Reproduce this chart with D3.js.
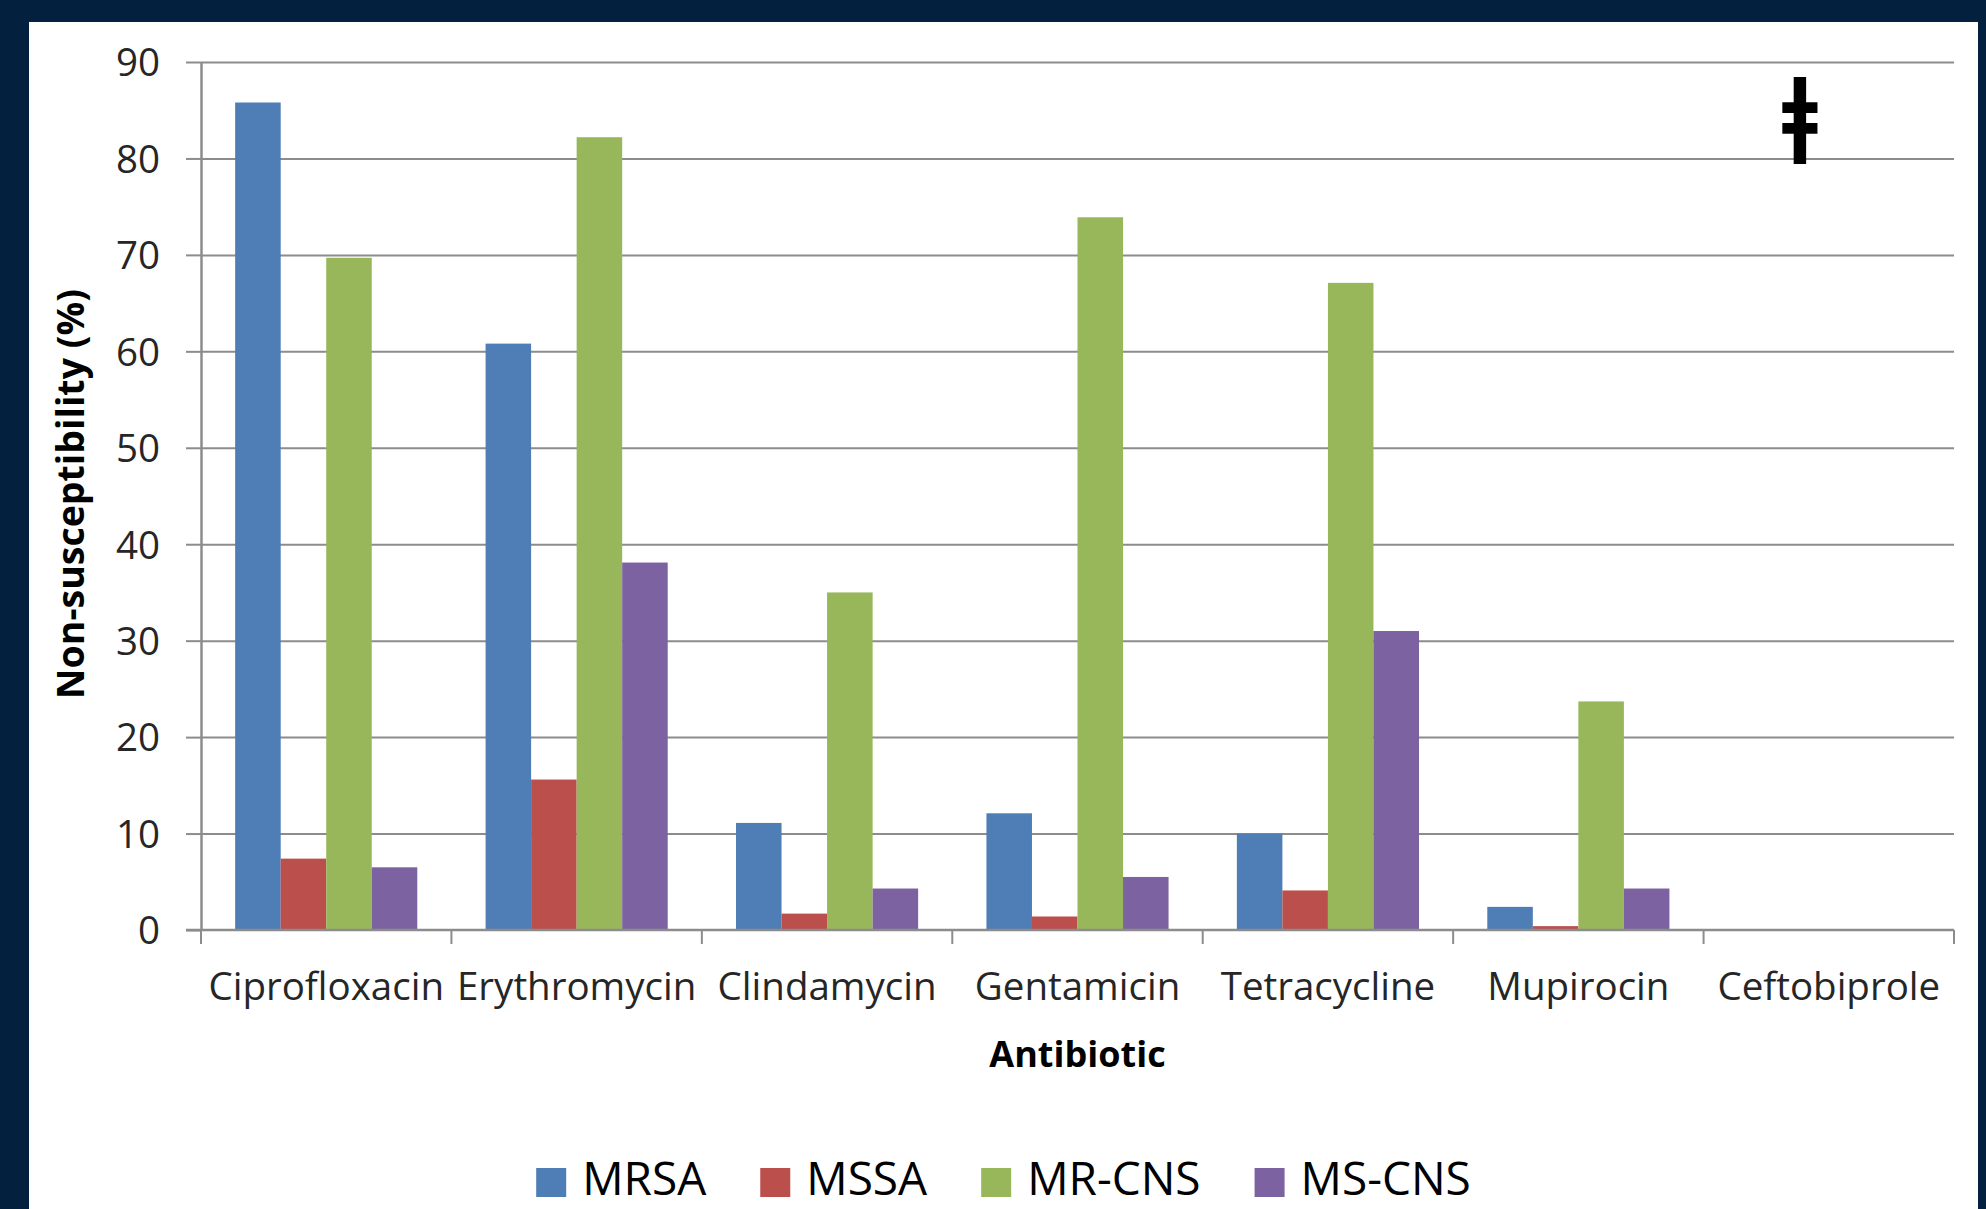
<!DOCTYPE html>
<html>
<head>
<meta charset="utf-8">
<script src="https://cdn.jsdelivr.net/npm/d3@7"></script>
<style>
  body { margin: 0; padding: 0; background: #04203f; }
  svg { display: block; }
</style>
</head>
<body>
<div id="main"></div>
<script>
const antibiotics = ['Ciprofloxacin', 'Erythromycin', 'Clindamycin', 'Gentamicin', 'Tetracycline', 'Mupirocin', 'Ceftobiprole'];
const groups = ['MRSA', 'MSSA', 'MR-CNS', 'MS-CNS'];
const mrsa  = [85.8, 60.8, 11.1, 12.1, 10.0, 2.4, 0];
const mssa  = [7.4, 15.6, 1.7, 1.4, 4.1, 0.4, 0];
const mrcns = [69.7, 82.2, 35.0, 73.9, 67.1, 23.7, 0];
const mscns = [6.5, 38.1, 4.3, 5.5, 31.0, 4.3, 0];
const yTicks = [0, 10, 20, 30, 40, 50, 60, 70, 80, 90];
const colors = ['#4f7db6', '#bb4f4c', '#98b65a', '#7c62a0'];

const w = 1986;
const h = 1209;
const plotLeft = 201, plotRight = 1954, plotTop = 62, plotBottom = 930;

const series = [mrsa, mssa, mrcns, mscns];
const rows = antibiotics.map((a, i) => ({ name: a, values: series.map(s => s[i]) }));

const svg = d3.select('#main')
              .append('svg')
              .attr('width', w)
              .attr('height', h);

// white panel
svg.append('rect')
   .attr('x', 29)
   .attr('y', 22)
   .attr('width', 1949)
   .attr('height', h - 22)
   .attr('fill', '#ffffff');

const xScale = d3.scaleBand()
                 .domain(antibiotics)
                 .range([plotLeft, plotRight]);

const x1 = d3.scaleBand()
             .domain(groups)
             .range([0, xScale.bandwidth()])
             .paddingOuter(0.75);

const yScale = d3.scaleLinear()
                 .domain([0, 90])
                 .range([plotBottom, plotTop]);

// gridlines
svg.append('g')
   .attr('class', 'grid')
   .attr('transform', 'translate(' + plotLeft + ',0)')
   .call(d3.axisLeft(yScale).tickValues(yTicks.slice(1)).tickSize(-(plotRight - plotLeft)).tickFormat(''))
   .call(g => g.select('.domain').remove())
   .call(g => g.selectAll('line').attr('stroke', '#8c8c8c').attr('stroke-width', 2));

// bars
svg.append('g')
   .selectAll('g')
   .data(rows)
   .enter()
   .append('g')
   .attr('transform', d => 'translate(' + xScale(d.name) + ',0)')
   .selectAll('rect')
   .data(d => d.values.map((v, i) => ({ key: groups[i], value: v, i: i })))
   .enter()
   .append('rect')
   .attr('x', d => x1(d.key))
   .attr('y', d => yScale(d.value))
   .attr('width', x1.bandwidth())
   .attr('height', d => yScale(0) - yScale(d.value))
   .attr('fill', d => colors[d.i]);

// y axis
svg.append('g')
   .attr('transform', 'translate(' + plotLeft + ',0)')
   .call(d3.axisLeft(yScale).tickValues(yTicks).tickSize(15).tickPadding(26).tickSizeOuter(0))
   .call(g => g.select('.domain').attr('stroke', '#8c8c8c').attr('stroke-width', 2.5))
   .call(g => g.selectAll('line').attr('stroke', '#8c8c8c').attr('stroke-width', 2))
   .call(g => g.selectAll('text')
               .attr('font-family', 'Open Sans')
               .attr('font-size', '38.5px')
               .attr('fill', '#262626')
               .attr('dy', '0.36em'));

// x axis line + labels
const xAxisG = svg.append('g')
   .attr('transform', 'translate(0,' + plotBottom + ')')
   .call(d3.axisBottom(xScale).tickSize(0).tickSizeOuter(0))
   .call(g => g.select('.domain').attr('d', 'M' + (plotLeft - 15) + ',0H' + plotRight).attr('stroke', '#8c8c8c').attr('stroke-width', 2.5))
   .call(g => g.selectAll('text')
               .attr('font-family', 'Open Sans')
               .attr('font-size', '38.5px')
               .attr('fill', '#262626')
               .attr('y', 70)
               .attr('dy', 0));

// category boundary ticks
const bounds = antibiotics.map(a => xScale(a)).concat([xScale.range()[1]]);
xAxisG.selectAll('line.bound')
   .data(bounds)
   .enter()
   .append('line')
   .attr('class', 'bound')
   .attr('x1', d => d)
   .attr('x2', d => d)
   .attr('y1', 0)
   .attr('y2', 14)
   .attr('stroke', '#8c8c8c')
   .attr('stroke-width', 2);

// axis titles
svg.append('text')
   .text('Non-susceptibility (%)')
   .attr('transform', 'translate(84,494) rotate(-90)')
   .attr('text-anchor', 'middle')
   .attr('font-family', 'Open Sans')
   .attr('font-weight', 'bold')
   .attr('font-size', '37.5px')
   .attr('fill', '#000');

svg.append('text')
   .text('Antibiotic')
   .attr('x', (plotLeft + plotRight) / 2)
   .attr('y', 1067)
   .attr('text-anchor', 'middle')
   .attr('font-family', 'Open Sans')
   .attr('font-weight', 'bold')
   .attr('font-size', '36px')
   .attr('fill', '#000');

// double dagger mark near Ceftobiprole
svg.append('text')
   .text('ǂ')
   .attr('transform', 'translate(1800,145) scale(0.72,1)')
   .attr('text-anchor', 'middle')
   .attr('font-family', 'DejaVu Sans')
   .attr('font-weight', 'bold')
   .attr('font-size', '92px')
   .attr('fill', '#000');

// legend
const legend = svg.append('g');
const items = legend.selectAll('g')
   .data(groups)
   .enter()
   .append('g');

items.append('rect')
   .attr('width', 30)
   .attr('height', 29)
   .attr('y', 1168)
   .attr('fill', (d, i) => colors[i]);

items.append('text')
   .text(d => d)
   .attr('x', 46)
   .attr('y', 1195)
   .attr('font-family', 'Open Sans')
   .attr('font-size', '46px')
   .attr('fill', '#000');

const widths = [];
items.each(function () { widths.push(d3.select(this).select('text').node().getComputedTextLength()); });
const total = d3.sum(widths) + groups.length * 46 + (groups.length - 1) * 54;
let cx = (29 + 1978) / 2 - total / 2;
items.attr('transform', (d, i) => {
  const t = 'translate(' + cx + ',0)';
  cx += 46 + widths[i] + 54;
  return t;
});
</script>
</body>
</html>
